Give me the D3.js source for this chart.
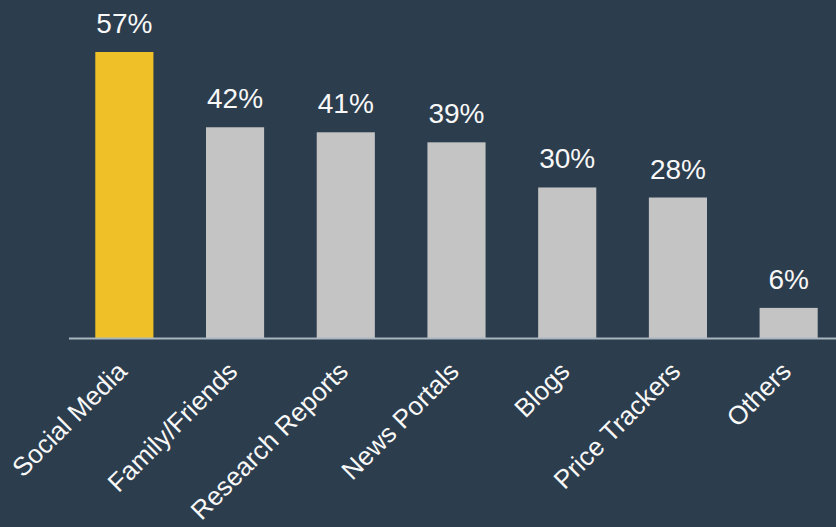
<!DOCTYPE html>
<html>
<head>
<meta charset="utf-8">
<script src="https://cdn.jsdelivr.net/npm/d3@7/dist/d3.min.js"></script>
<style>
html,body{margin:0;padding:0;background:#2c3d4d;}
svg{display:block;}
</style>
</head>
<body>
<svg id="chart" width="836" height="527"></svg>
<script>
const categories = ["Social Media","Family/Friends","Research Reports","News Portals","Blogs","Price Trackers","Others"];
const values = [57,42,41,39,30,28,6];
const valueLabels = ["57%","42%","41%","39%","30%","28%","6%"];
const highlight = "Social Media";

const W = 836, H = 527;
const baseY = 338;
const svg = d3.select("#chart");
svg.append("rect").attr("width",W).attr("height",H).attr("fill","#2c3d4d");

const x = d3.scaleBand().domain(categories).range([69, 844]).paddingInner(0.475).paddingOuter(0.2375);
const y = d3.scaleLinear().domain([0,57]).range([baseY, 52]);

const data = categories.map((c,i)=>({c, v:values[i], l:valueLabels[i]}));

svg.selectAll("rect.bar").data(data).enter().append("rect")
  .attr("class","bar")
  .attr("x", d=>x(d.c))
  .attr("y", d=>y(d.v))
  .attr("width", x.bandwidth())
  .attr("height", d=>y(0)-y(d.v))
  .attr("fill", d=>d.c===highlight ? "#f0c028" : "#c4c4c4");

svg.append("line")
  .attr("x1",69).attr("x2",W).attr("y1",baseY+0.5).attr("y2",baseY+0.5)
  .attr("stroke","#aab6c0").attr("stroke-width",2);

svg.selectAll("text.val").data(data).enter().append("text")
  .attr("class","val")
  .attr("x", d=>x(d.c)+x.bandwidth()/2)
  .attr("y", d=>y(d.v)-19)
  .attr("text-anchor","middle")
  .attr("fill","#f8f8f8")
  .style("font-family","Arial, 'Liberation Sans', sans-serif")
  .style("font-size","28px")
  .text(d=>d.l);

svg.selectAll("text.cat").data(data).enter().append("text")
  .attr("class","cat")
  .attr("transform", d=>`translate(${x(d.c)+x.bandwidth()/2+4},${baseY+35}) rotate(-45)`)
  .attr("text-anchor","end")
  .attr("fill","#f8f8f8")
  .style("font-family","Arial, 'Liberation Sans', sans-serif")
  .style("font-size","26px")
  .text(d=>d.c);
</script>
</body>
</html>
